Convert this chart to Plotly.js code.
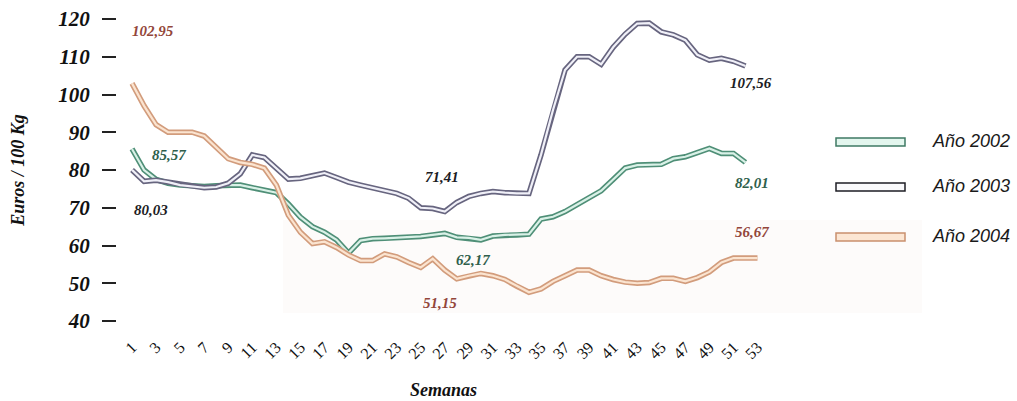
<!DOCTYPE html>
<html><head><meta charset="utf-8">
<script src="https://cdn.plot.ly/plotly-3.0.1.min.js"></script>
<style>html,body{margin:0;padding:0;background:#fff}#chart{width:1017px;height:401px}</style>
</head><body><div id="chart"></div>
<script>
// ---- data ----
const weeks = [1,2,3,4,5,6,7,8,9,10,11,12,13,14,15,16,17,18,19,20,21,22,23,24,25,26,27,28,29,30,31,32,33,34,35,36,37,38,39,40,41,42,43,44,45,46,47,48,49,50,51,52,53];
const seriesNames = ["Año 2002", "Año 2003", "Año 2004"];
const y2002 = [85.57,80,77.5,76.5,76,75.8,75.6,75.8,76,76,75.3,74.5,74,71,67.5,65,63.5,61.5,58,61.3,61.8,61.9,62,62.2,62.4,62.8,63.2,62.17,62,61.5,62.5,62.8,62.8,63,67,67.6,69,70.8,72.5,74.5,77.5,80.5,81.3,81.3,81.5,83,83.5,84.6,85.7,84.4,84.4,82.01];
const y2003 = [80.03,77,77.3,76.8,76,75.6,75.3,75.5,76.5,79,84,83.3,80.5,77.6,77.8,78.4,79.2,78,76.8,76,75.2,74.5,73.8,72.5,70,69.8,69,71.41,73,73.8,74.3,74,73.8,73.8,84,95.9,106.5,110,110,108,112.5,116,118.8,118.9,116.6,115.8,114.4,110.5,109.1,109.6,108.8,107.56];
const y2004 = [102.95,97,92,90,90,90,89,86,83,82,81.5,80.5,76,68,63.5,60.5,61,59.5,57.5,56,56,57.8,57,55.5,54.2,56.5,53.5,51.15,52,52.6,52,51,49.2,47.6,48.5,50.5,52,53.5,53.5,52,51,50.3,50,50.2,51.3,51.3,50.5,51.5,53,55.5,56.67,56.67,56.67];
const yTicks = [40,50,60,70,80,90,100,110,120];
const labelWeeks2002 = [1, 28, 52];
const labelWeeks2003 = [1, 28, 52];
const labelWeeks2004 = [1, 28, 53];

// ---- styles ----
const outerCol = ["#4f8f77", "#67657f", "#d29c7c"];
const innerCol = ["#d9f1e7", "#f0f0f8", "#fbe4d0"];
const labelCol = ["#2f5f4c", "#1c1c24", "#93463a"];
const legendBorder = ["#3f7a64", "#1e1e24", "#c9906e"];
const legendFill = ["#e3f6ee", "#fafafc", "#fce6d3"];

const ML = 117, MR = 247, MT = 19, MB = 80, W = 1017, H = 401;
const PW = W - ML - MR, PH = H - MT - MB;
const px = x => (x - ML) / PW;
const py = y => (H - MB - y) / PH;

const all = [y2002, y2003, y2004];
const traces = [];
all.forEach((ys, i) => {
  const xs = weeks.slice(0, ys.length);
  traces.push({x: xs, y: ys, type: 'scatter', mode: 'lines', name: seriesNames[i],
    line: {color: outerCol[i], width: 5.5}, showlegend: false, hoverinfo: 'skip'});
  traces.push({x: xs, y: ys, type: 'scatter', mode: 'lines', name: seriesNames[i],
    line: {color: innerCol[i], width: 2.2}, showlegend: false});
});

const fmt = v => v.toFixed(2).replace('.', ',');
const lblFont = (c) => ({family: 'Liberation Serif, Times New Roman, serif', size: 15, color: c, weight: 'bold', style: 'italic'});
const annots = [];
// value labels: [series index, week, x(week units), y(value units)]
const labelPos = [
  [2, labelWeeks2004[0], 2.75, 116.8],
  [0, labelWeeks2002[0], 4.08, 84.0],
  [1, labelWeeks2003[0], 2.58, 69.4],
  [1, labelWeeks2003[1], 26.77, 78.1],
  [0, labelWeeks2002[1], 29.35, 56.2],
  [2, labelWeeks2004[1], 26.6, 44.8],
  [1, labelWeeks2003[2], 52.45, 103.0],
  [0, labelWeeks2002[2], 52.54, 76.6],
  [2, labelWeeks2004[2], 52.54, 63.6]
];
labelPos.forEach(([s, wk, x, y]) => {
  annots.push({x: x, y: y, xref: 'x', yref: 'y', text: fmt(all[s][wk - 1]), showarrow: false,
    font: lblFont(labelCol[s]), xanchor: 'center', yanchor: 'middle'});
});

// custom legend
const shapes = [
  {type: 'rect', xref: 'paper', yref: 'paper', x0: px(283), x1: px(922), y0: py(313), y1: py(220),
   fillcolor: '#fdfbfa', line: {width: 0}, layer: 'below'}
];
const legRows = [142, 187, 237];
legRows.forEach((cy, i) => {
  shapes.push({type: 'rect', xref: 'paper', yref: 'paper', x0: px(836), x1: px(905), y0: py(cy + 4), y1: py(cy - 4),
    fillcolor: legendFill[i], line: {color: legendBorder[i], width: 1.5}});
  annots.push({xref: 'paper', yref: 'paper', x: px(930), y: py(cy - 1), text: seriesNames[i], showarrow: false,
    xanchor: 'left', yanchor: 'middle',
    font: {family: 'Liberation Sans, Arial, sans-serif', size: 18, color: '#1a1a1a', style: 'italic'}});
});

const layout = {
  width: W, height: H,
  margin: {l: ML, r: MR, t: MT, b: MB, pad: 0},
  paper_bgcolor: '#fff', plot_bgcolor: 'rgba(0,0,0,0)',
  showlegend: false,
  xaxis: {
    range: [-0.25, 54.04], tick0: 1, dtick: 2, tickmode: 'linear',
    showgrid: false, zeroline: false, showline: false, ticks: '',
    tickangle: -45, ticklabelstandoff: 13,
    tickfont: {family: 'Liberation Serif, Times New Roman, serif', size: 16, color: '#111'},
    title: {text: 'Semanas', standoff: 22,
      font: {family: 'Liberation Serif, Times New Roman, serif', size: 18, color: '#111', weight: 'bold', style: 'italic'}}
  },
  yaxis: {
    range: [40, 120], tickmode: 'array', tickvals: yTicks, ticktext: yTicks.map(String),
    showgrid: false, zeroline: false, showline: false,
    ticks: 'outside', ticklen: 14, tickwidth: 2, tickcolor: '#222', ticklabelstandoff: 8,
    tickfont: {family: 'Liberation Serif, Times New Roman, serif', size: 21, color: '#111', weight: 'bold', style: 'italic'},
    title: {text: 'Euros / 100 Kg', standoff: 28,
      font: {family: 'Liberation Serif, Times New Roman, serif', size: 18, color: '#111', weight: 'bold', style: 'italic'}}
  },
  annotations: annots,
  shapes: shapes
};
Plotly.newPlot('chart', traces, layout, {displayModeBar: false, staticPlot: true});
</script></body></html>
